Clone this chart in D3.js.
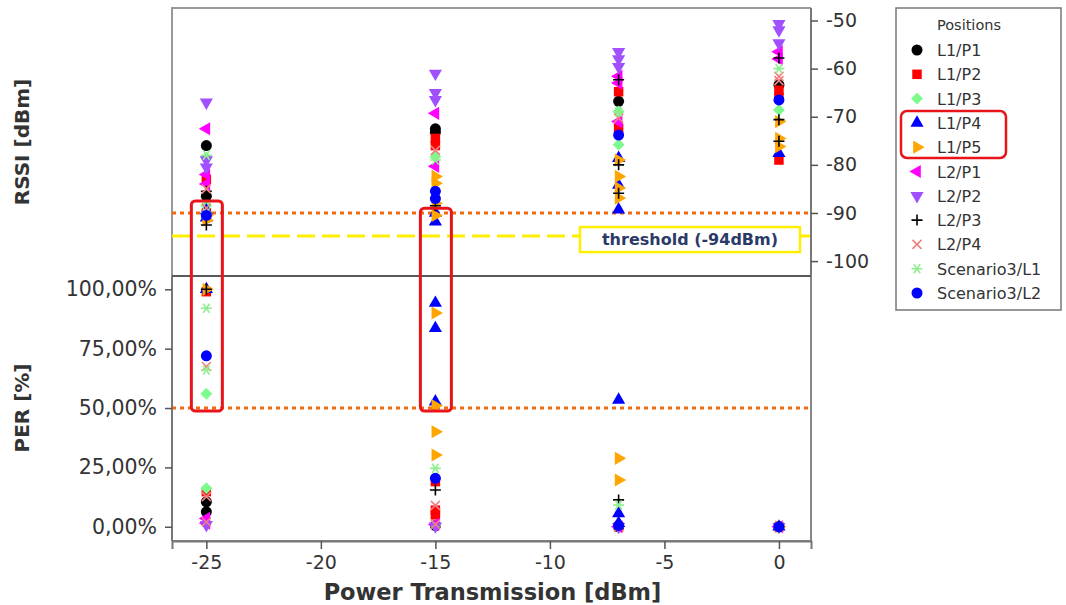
<!DOCTYPE html>
<html>
<head>
<meta charset="utf-8">
<script src="https://cdn.jsdelivr.net/npm/d3@7"></script>
<style>
body { margin: 0; background: #fff; }
svg text { font-family: "DejaVu Sans", Verdana, sans-serif; fill: #333; }
</style>
</head>
<body>
<div class="chart"></div>
<script>

// tick values and limits
const powerTicks = [-25, -20, -15, -10, -5, 0];
const rssiTicks = [-50, -60, -70, -80, -90, -100];
const perTicks = [0, 25, 50, 75, 100];
const rssiLimit = -90;      // orange dotted line, top panel
const perLimit = 50;        // orange dotted line, bottom panel
const thresholdLine = -94.8; // yellow dashed line
const highlightPowers = [-25, -15];
const highlightTops = [-87.5, -89];

const seriesNames = ["L1/P1", "L1/P2", "L1/P3", "L1/P4", "L1/P5", "L2/P1", "L2/P2", "L2/P3", "L2/P4", "Scenario3/L1", "Scenario3/L2"];
const seriesColors = ["#000000", "#ff0000", "#7dfa8c", "#0000ff", "#ffa500", "#ff00ff", "#a050ff", "#000000", "#f08080", "#90ee90", "#0000ff"];

// [power dBm, RSSI dBm]
const rssiL1P1 = [[-25, -76], [-25, -86.5], [-15, -72.5], [-15, -73.2], [-7, -66.8], [0, -63.4]];
const rssiL1P2 = [[-25, -83], [-25, -90], [-15, -74.5], [-15, -76], [-7, -64.8], [-7, -72.4], [0, -64.5], [0, -66], [0, -79]];
const rssiL1P3 = [[-25, -78.5], [-25, -88.5], [-15, -78.3], [-7, -68.9], [-7, -75.8], [0, -68.6]];
const rssiL1P4 = [[-25, -91], [-25, -89.5], [-15, -91.8], [-15, -90], [-7, -78.6], [-7, -84.2], [-7, -89.3], [0, -77.6]];
const rssiL1P5 = [[-25, -91.5], [-25, -90.5], [-15, -82.4], [-15, -83.8], [-15, -88], [-15, -90.5], [-7, -79], [-7, -82.4], [-7, -84.8], [-7, -86.9], [0, -71], [0, -74.5], [0, -76.2]];
const rssiL2P1 = [[-25, -72.5], [-25, -82], [-25, -84], [-15, -69.3], [-15, -80.3], [-7, -61.6], [-7, -63], [-7, -71], [0, -56.5], [0, -58]];
const rssiL2P2 = [[-25, -67], [-25, -79], [-25, -80.5], [-15, -61], [-15, -65], [-15, -66.5], [-7, -56.5], [-7, -58], [-7, -59.6], [0, -50.7], [0, -52], [0, -54.7]];
const rssiL2P3 = [[-25, -85.5], [-25, -92.5], [-15, -88.5], [-7, -62.3], [-7, -80], [-7, -85.9], [0, -57.8], [0, -70.6], [0, -75.1]];
const rssiL2P4 = [[-25, -85], [-25, -89], [-15, -77], [-7, -70.3], [0, -61.6], [0, -62.5]];
const rssiSc3L1 = [[-25, -78], [-25, -90], [-15, -79], [-7, -69], [0, -60]];
const rssiSc3L2 = [[-25, -90.5], [-15, -85.5], [-15, -87], [-7, -73.8], [0, -66.5]];

// [power dBm, PER %]
const perL1P1 = [[-25, 10.5], [-25, 6.3], [-15, 0.5], [-7, 0], [0, 0]];
const perL1P2 = [[-25, 14.8], [-25, 99], [-15, 19], [-15, 7], [-15, 5], [-7, 0], [0, 0]];
const perL1P3 = [[-25, 56], [-25, 16.2], [-15, 0.5], [-7, 0], [0, 0]];
const perL1P4 = [[-25, 100], [-15, 94.2], [-15, 83.6], [-15, 52.7], [-7, 53.4], [-7, 5.6], [-7, 1.5], [0, 0]];
const perL1P5 = [[-25, 100], [-15, 90], [-15, 51], [-15, 40], [-15, 30.2], [-7, 28.8], [-7, 19.7], [0, 0]];
const perL2P1 = [[-25, 3.5], [-25, 1.5], [-15, 1], [-7, 0], [0, 0]];
const perL2P2 = [[-25, 0.8], [-15, 0.3], [-7, 0], [0, 0]];
const perL2P3 = [[-25, 100], [-15, 15.5], [-7, 11.3], [0, 0]];
const perL2P4 = [[-25, 67.5], [-25, 12.7], [-25, 2], [-15, 9], [-15, 1], [-7, 0], [0, 0]];
const perSc3L1 = [[-25, 92], [-25, 66], [-15, 24.6], [-7, 9.1], [0, 0]];
const perSc3L2 = [[-25, 72], [-15, 20.4], [-7, 0.5], [0, 0]];

const rssiData = [rssiL1P1, rssiL1P2, rssiL1P3, rssiL1P4, rssiL1P5, rssiL2P1, rssiL2P2, rssiL2P3, rssiL2P4, rssiSc3L1, rssiSc3L2];
const perData = [perL1P1, perL1P2, perL1P3, perL1P4, perL1P5, perL2P1, perL2P2, perL2P3, perL2P4, perSc3L1, perSc3L2];

let chart = {};

init();

function init() {
    chart.series = seriesNames.map((name, i) => ({
        name: name,
        color: seriesColors[i],
        rssi: rssiData[i],
        per: perData[i]
    }));
    setDimensions();
    setScales();
    appendElements();
}

function setDimensions() {
    chart.width = 1066;
    chart.height = 605;
    chart.left = 172;
    chart.right = 811;
    chart.top = 8;
    chart.split = 276;
    chart.bottom = 541;
}

function setScales() {
    chart.xScale = d3.scaleLinear()
        .domain([-26.5, 1.4])
        .range([chart.left, chart.right]);

    chart.rssiScale = d3.scaleLinear()
        .domain([-103.1, -47.4])
        .range([chart.split, chart.top]);

    chart.perScale = d3.scaleLinear()
        .domain([-6, 105.6])
        .range([chart.bottom, chart.split]);
}

// marker for each series, drawn at the origin
function marker(sel, i) {
    const c = seriesColors[i];
    const sym = (type, size, rot) => sel.append("path")
        .attr("d", d3.symbol(type, size)())
        .attr("transform", rot ? `rotate(${rot})` : null)
        .attr("fill", c);
    const strokePath = (d) => sel.append("path")
        .attr("d", d)
        .attr("fill", "none")
        .attr("stroke", c)
        .attr("stroke-width", 1.6);

    if (i === 0 || i === 10) sym(d3.symbolCircle, 95);
    else if (i === 1) sym(d3.symbolSquare, 90);
    else if (i === 2) sym(d3.symbolSquare, 70, 45);
    else if (i === 3) sym(d3.symbolTriangle, 75);
    else if (i === 4) sym(d3.symbolTriangle, 75, 90);
    else if (i === 5) sym(d3.symbolTriangle, 75, -90);
    else if (i === 6) sym(d3.symbolTriangle, 75, 180);
    else if (i === 7) strokePath("M-5.5,0H5.5M0,-5.5V5.5");
    else if (i === 8) strokePath("M-4.5,-4.5L4.5,4.5M-4.5,4.5L4.5,-4.5");
    else if (i === 9) strokePath("M-5.5,0H5.5M-3.2,-4.6L3.2,4.6M-3.2,4.6L3.2,-4.6");
}

function appendElements() {
    const x = chart.xScale, yR = chart.rssiScale, yP = chart.perScale;

    chart.svg = d3.select(".chart").append("svg")
        .attr("width", chart.width)
        .attr("height", chart.height);
    const svg = chart.svg;

    // frame of the top panel
    svg.append("path")
        .attr("d", `M${chart.left},${chart.split}V${chart.top}H${chart.right}`)
        .attr("fill", "none").attr("stroke", "#999").attr("stroke-width", 2);

    // frame of the bottom panel
    svg.append("path")
        .attr("d", `M${chart.left},${chart.bottom}H${chart.right}V${chart.split}`)
        .attr("fill", "none").attr("stroke", "#888").attr("stroke-width", 2);

    // limit lines
    svg.append("line")
        .attr("x1", chart.left).attr("x2", chart.right)
        .attr("y1", yR(rssiLimit)).attr("y2", yR(rssiLimit))
        .attr("stroke", "#f26a10").attr("stroke-width", 3).attr("stroke-dasharray", "4,4");
    svg.append("line")
        .attr("x1", chart.left).attr("x2", chart.right)
        .attr("y1", yP(perLimit)).attr("y2", yP(perLimit))
        .attr("stroke", "#f26a10").attr("stroke-width", 3).attr("stroke-dasharray", "4,4");
    svg.append("line")
        .attr("x1", chart.left).attr("x2", chart.right)
        .attr("y1", yR(thresholdLine)).attr("y2", yR(thresholdLine))
        .attr("stroke", "#ffee00").attr("stroke-width", 3).attr("stroke-dasharray", "18,7");

    // threshold label
    const ty = yR(thresholdLine);
    svg.append("rect")
        .attr("x", 580).attr("y", ty - 9).attr("width", 220).attr("height", 25)
        .attr("fill", "#fff").attr("stroke", "#ffee00").attr("stroke-width", 2.5);
    svg.append("text")
        .attr("x", 690).attr("y", ty + 9)
        .attr("text-anchor", "middle")
        .style("font-size", "16px").style("font-weight", "bold").style("fill", "#2b3a66")
        .text("threshold (-94dBm)");

    // divider between the panels
    svg.append("line")
        .attr("x1", chart.left).attr("x2", chart.right)
        .attr("y1", chart.split).attr("y2", chart.split)
        .attr("stroke", "#222").attr("stroke-width", 1.5);

    // axes (plain hyphen for the minus sign, as in the picture)
    const rAxis = svg.append("g")
        .attr("transform", `translate(${chart.right},0)`)
        .call(d3.axisRight(yR).tickValues(rssiTicks).tickSize(7).tickPadding(8).tickFormat(d => String(d)));

    const locale = d3.formatLocale({ decimal: ",", thousands: ".", grouping: [3], currency: ["", "€"] });
    const pct = locale.format(".2f");
    const lAxis = svg.append("g")
        .attr("transform", `translate(${chart.left},0)`)
        .call(d3.axisLeft(yP).tickValues(perTicks).tickSize(7).tickPadding(8).tickFormat(d => pct(d) + "%"));

    const bAxis = svg.append("g")
        .attr("transform", `translate(0,${chart.bottom})`)
        .call(d3.axisBottom(x).tickValues(powerTicks).tickSize(8).tickPadding(7).tickFormat(d => String(d)));

    [rAxis, lAxis, bAxis].forEach(a => {
        a.select(".domain").attr("stroke", "#777").attr("stroke-width", 2);
        a.selectAll(".tick line").attr("stroke", "#555").attr("stroke-width", 1.5);
        a.selectAll(".tick text").style("font-size", "19px").style("font-family", "'DejaVu Sans', sans-serif").attr("fill", "#333");
    });
    lAxis.selectAll(".tick text").style("font-size", "20.5px");
    rAxis.select(".domain").attr("d", `M0,${chart.top}V${chart.split}`);
    lAxis.select(".domain").attr("d", `M0,${chart.split}V${chart.bottom}`);

    // axis titles
    svg.append("text")
        .attr("transform", `translate(29,142) rotate(-90)`)
        .attr("text-anchor", "middle")
        .style("font-size", "20px").style("font-weight", "bold")
        .text("RSSI [dBm]");
    svg.append("text")
        .attr("transform", `translate(29,408) rotate(-90)`)
        .attr("text-anchor", "middle")
        .style("font-size", "20px").style("font-weight", "bold")
        .text("PER [%]");
    svg.append("text")
        .attr("x", (chart.left + chart.right) / 2 + 1).attr("y", 600)
        .attr("text-anchor", "middle")
        .style("font-size", "22.5px").style("font-weight", "bold")
        .attr("fill", "#222")
        .text("Power Transmission [dBm]");

    // points
    const points = svg.append("g");
    chart.series.forEach((s, i) => {
        s.rssi.forEach(d => {
            const g = points.append("g").attr("transform", `translate(${x(d[0])},${yR(d[1])})`);
            marker(g, i);
        });
        s.per.forEach(d => {
            const g = points.append("g").attr("transform", `translate(${x(d[0])},${yP(d[1])})`);
            marker(g, i);
        });
    });

    // red highlight boxes
    highlightPowers.forEach((p, i) => {
        const top = yR(highlightTops[i]);
        const bot = yP(perLimit) + 3;
        svg.append("rect")
            .attr("x", x(p) - 15).attr("y", top)
            .attr("width", 31).attr("height", bot - top)
            .attr("rx", 4)
            .attr("fill", "none").attr("stroke", "#e8141a").attr("stroke-width", 3);
    });

    // legend
    const lg = svg.append("g").attr("transform", "translate(896,8)");
    lg.append("rect")
        .attr("width", 165).attr("height", 302)
        .attr("fill", "#fff").attr("stroke", "#777").attr("stroke-width", 1.5);
    lg.append("text")
        .attr("x", 41).attr("y", 22)
        .style("font-size", "14.5px")
        .text("Positions");
    seriesNames.forEach((name, i) => {
        const cy = 42 + i * 24.3;
        const g = lg.append("g").attr("transform", `translate(21,${cy})`);
        marker(g, i);
        lg.append("text")
            .attr("x", 41).attr("y", cy + 6)
            .style("font-size", "16px").attr("fill", "#3a3046")
            .text(name);
    });
    lg.append("rect")
        .attr("x", 5).attr("y", 103)
        .attr("width", 105).attr("height", 47)
        .attr("rx", 6)
        .attr("fill", "none").attr("stroke", "#e8141a").attr("stroke-width", 2.5);
}

</script>
</body>
</html>
